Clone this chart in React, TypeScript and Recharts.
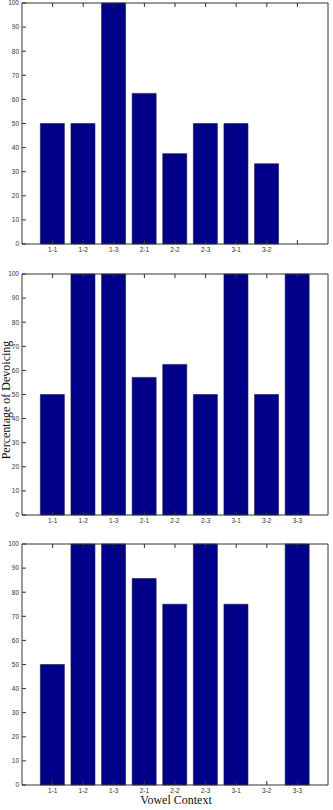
import React from 'react';
import { BarChart, Bar, XAxis, YAxis } from 'recharts';

const contexts = ['1-1', '1-2', '1-3', '2-1', '2-2', '2-3', '3-1', '3-2', '3-3'];
const topValues = [50, 50, 100, 62.5, 37.5, 50, 50, 33.3, null];
const topLabels = ['1-1', '1-2', '1-3', '2-1', '2-2', '2-3', '3-1', '3-2', ''];
const middleValues = [50, 100, 100, 57.1, 62.5, 50, 100, 50, 100];
const bottomValues = [50, 100, 100, 85.7, 75, 100, 75, 0, 100];
const yTicks = [0, 10, 20, 30, 40, 50, 60, 70, 80, 90, 100];

const BAR_COLOR = '#000088';
const AXIS_COLOR = '#333';
const tickStyle = { fontSize: 6.5, fill: '#333', fontFamily: 'Liberation Sans, Arial, sans-serif' };

interface PanelProps {
  values: (number | null)[];
  labels: string[];
  plotTop: number;
}

const Panel: React.FC<PanelProps> = ({ values, labels, plotTop }) => {
  const data = contexts.map((c, i) => ({ ctx: c, label: labels[i], pct: values[i] }));
  // margin top 5 + top axis 1px => plot starts 6px below the wrapper
  return (
    <div style={{ position: 'absolute', left: 0, top: plotTop - 6 }}>
      <BarChart width={333} height={267} data={data} margin={{ top: 5, right: 4, left: 0, bottom: 0 }} barCategoryGap="10%">
        <XAxis
          xAxisId="b"
          dataKey="ctx"
          height={20}
          padding={{ left: 15.3, right: 15.3 }}
          tickFormatter={(_v: string, i: number) => labels[i]}
          interval={0}
          tickSize={-4}
          tickMargin={7}
          tick={tickStyle}
          stroke={AXIS_COLOR}
        />
        <XAxis
          xAxisId="t"
          orientation="top"
          dataKey="ctx"
          height={1}
          padding={{ left: 15.3, right: 15.3 }}
          tickFormatter={() => ''}
          interval={0}
          tickSize={-4}
          stroke={AXIS_COLOR}
        />
        <YAxis
          yAxisId="l"
          width={22}
          domain={[0, 100]}
          ticks={yTicks}
          tickSize={-4}
          tickMargin={7}
          tick={tickStyle}
          stroke={AXIS_COLOR}
          interval={0}
        />
        <YAxis
          yAxisId="r"
          orientation="right"
          width={1}
          domain={[0, 100]}
          ticks={yTicks}
          tickSize={-4}
          tickFormatter={() => ''}
          stroke={AXIS_COLOR}
          interval={0}
        />
        <Bar
          xAxisId="b"
          yAxisId="l"
          dataKey="pct"
          fill={BAR_COLOR}
          stroke="#1a1a40"
          strokeWidth={0.6}
          isAnimationActive={false}
        />
      </BarChart>
    </div>
  );
};

const App: React.FC = () => {
  return (
    <div style={{ position: 'absolute', left: 0, top: 0, width: 333, height: 810, background: '#fff', overflow: 'hidden' }}>
      <Panel values={topValues} labels={topLabels} plotTop={3} />
      <Panel values={middleValues} labels={contexts} plotTop={274} />
      <Panel values={bottomValues} labels={contexts} plotTop={544} />
      <div
        style={{
          position: 'absolute',
          left: 6,
          top: 400,
          transform: 'translate(-50%, -50%) rotate(-90deg)',
          whiteSpace: 'nowrap',
          fontFamily: 'Liberation Serif, Times New Roman, serif',
          fontSize: 12,
          color: '#111',
        }}
      >
        Percentage of Devoicing
      </div>
      <div
        style={{
          position: 'absolute',
          left: 176,
          top: 800,
          transform: 'translate(-50%, -50%)',
          whiteSpace: 'nowrap',
          fontFamily: 'Liberation Serif, Times New Roman, serif',
          fontSize: 12,
          color: '#111',
        }}
      >
        Vowel Context
      </div>
    </div>
  );
};

export default App;
